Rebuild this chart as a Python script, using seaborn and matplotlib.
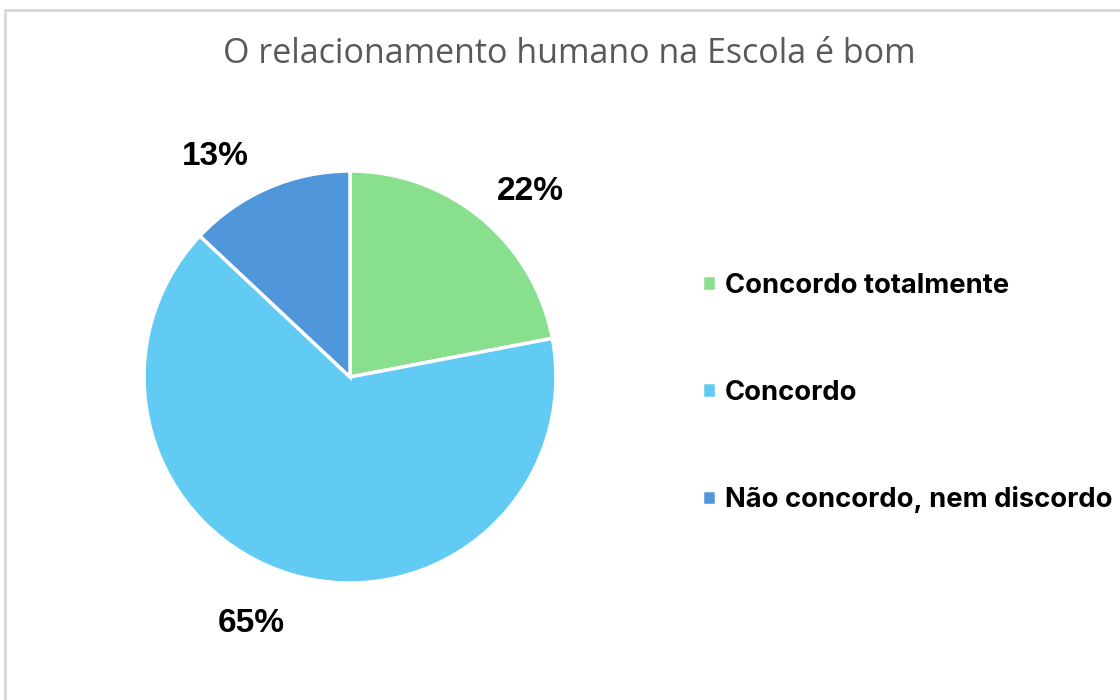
import matplotlib
matplotlib.use("Agg")
import matplotlib.pyplot as plt
import seaborn as sns
import numpy as np
from matplotlib.patches import Rectangle

sns.set_theme(style="white")
plt.rcParams['font.family'] = ['Open Sans', 'DejaVu Sans']

title = "O relacionamento humano na Escola é bom"
categories = ["Concordo totalmente", "Concordo", "Não concordo, nem discordo"]
values = [22, 65, 13]
colors = ["#88E08F", "#62CBF3", "#4F96DA"]

fig = plt.figure(figsize=(11.2, 7), dpi=100)
fig.patch.set_facecolor("white")

# chart frame (light grey border, cut by the image edge)
fig.patches.append(Rectangle((5 / 1120, -0.1), 1.2, (690 / 700) + 0.1,
                             transform=fig.transFigure, fill=False,
                             edgecolor="#D9D9D9", linewidth=2))

ax = fig.add_axes([144 / 1120, 117 / 700, 412 / 1120, 412 / 700])
wedges, texts, autotexts = ax.pie(
    values, colors=colors, startangle=90, counterclock=False,
    autopct=lambda p: f"{p:.0f}%", pctdistance=1.27,
    wedgeprops=dict(edgecolor="white", linewidth=2.5),
    textprops=dict(fontsize=24, fontweight="bold", color="black",
                   family=["Liberation Sans", "DejaVu Sans"]))

# Excel-like nudge of the outside labels
shift = [-4, -6, 7.5]
for t, d in zip(autotexts, shift):
    x, y = t.get_position()
    a = np.deg2rad(d)
    t.set_position((x * np.cos(a) - y * np.sin(a), x * np.sin(a) + y * np.cos(a) - 0.02))

ax.set_xlim(-1, 1)
ax.set_ylim(-1, 1)
ax.set_aspect("equal")
ax.axis("off")

fig.text(569 / 1120, 1 - 54 / 700, title, ha="center", va="center",
         fontsize=24.5, color="#595959")

leg = fig.legend(wedges, categories, loc="center left",
                 bbox_to_anchor=(702 / 1120, 1 - 393 / 700),
                 borderaxespad=0, borderpad=0,
                 frameon=False, handlelength=0.5, handleheight=0.5,
                 handletextpad=0.33, labelspacing=2.95, labelcolor="black",
                 prop=dict(size=19.7, weight="bold",
                           family=["Inter", "DejaVu Sans"]))

fig.savefig("out.png", dpi=100)
